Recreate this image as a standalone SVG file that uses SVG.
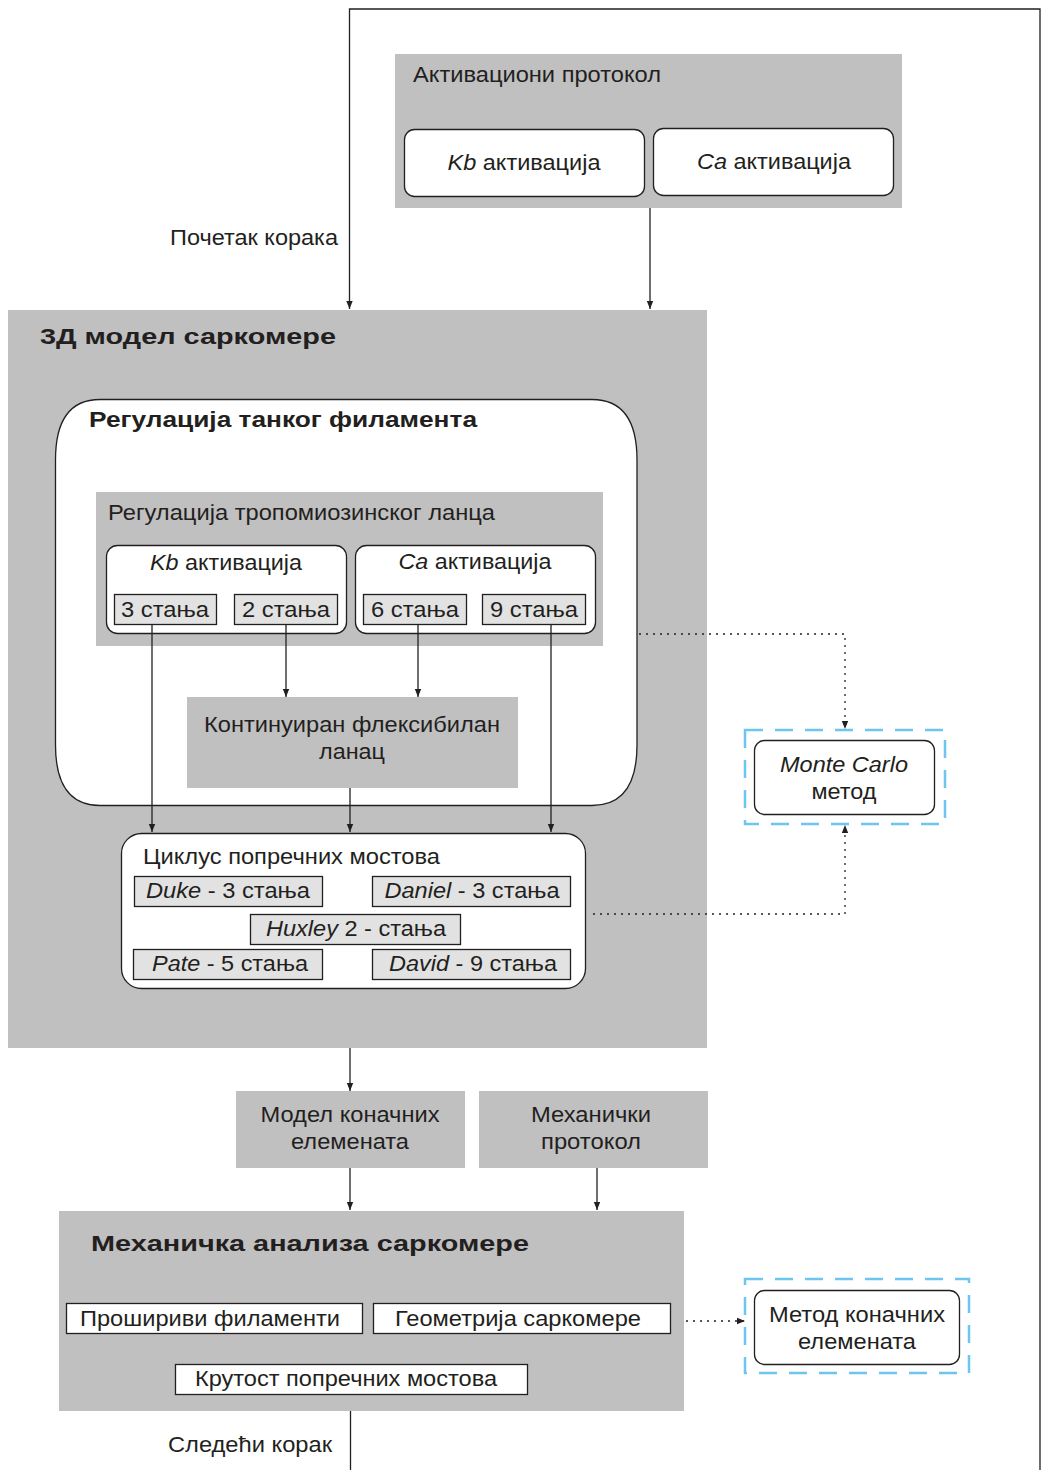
<svg xmlns="http://www.w3.org/2000/svg" width="1041" height="1470" viewBox="0 0 1041 1470">
  <defs>
    <marker id="arr" viewBox="0 0 8 8" refX="8" refY="4" markerWidth="8" markerHeight="8" markerUnits="userSpaceOnUse" orient="auto">
      <path d="M0,0.8 L8,4 L0,7.2 z" fill="#231f20"/>
    </marker>
  </defs>
  <style>
    text { font-family: "Liberation Sans", Arial, sans-serif; fill: #231f20; font-size: 22px; }
    .bold { font-weight: bold; }
    .mid { text-anchor: middle; }
    .end { text-anchor: end; }
    .gray { fill: #c0c0c0; }
    .white { fill: #ffffff; stroke: #231f20; stroke-width: 1.3; }
    .state { fill: #e2e2e2; stroke: #231f20; stroke-width: 1.3; }
    .plain { fill: #ffffff; stroke: #231f20; stroke-width: 1.3; }
    .blue { fill: none; stroke: #6ec6f0; stroke-width: 2.5; stroke-dasharray: 18 12; }
    .line { fill: none; stroke: #231f20; stroke-width: 1.3; }
    .dot { fill: none; stroke: #231f20; stroke-width: 1.3; stroke-dasharray: 2 5; }
  </style>

  <rect width="1041" height="1470" fill="#ffffff"/>

  <!-- activation protocol -->
  <g id="activation-protocol">
    <rect class="gray" x="395" y="54" width="507" height="154"/>
    <text x="413" y="82" textLength="248" lengthAdjust="spacingAndGlyphs">Активациони протокол</text>
    <rect class="white" x="404.5" y="129.5" width="240" height="67" rx="10"/>
    <text class="mid" x="524" y="170" textLength="153" lengthAdjust="spacingAndGlyphs"><tspan font-style="italic">Kb</tspan> активација</text>
    <rect class="white" x="653.5" y="128.5" width="240" height="67" rx="10"/>
    <text class="mid" x="774" y="169" textLength="154" lengthAdjust="spacingAndGlyphs"><tspan font-style="italic">Ca</tspan> активација</text>
  </g>

  <g id="step-start">
    <text class="end" x="338" y="245" textLength="168" lengthAdjust="spacingAndGlyphs">Почетак корака</text>
  </g>

  <!-- 3D sarcomere model -->
  <g id="sarcomere-3d">
    <rect class="gray" x="8" y="310" width="699" height="738"/>
    <text class="bold" font-size="27" x="40" y="344" textLength="296" lengthAdjust="spacingAndGlyphs">3Д модел саркомере</text>
  </g>

  <g id="thin-filament">
    <path class="white" d="M100,399.5 H592 Q637,399.5 637,460 V745 Q637,805.5 592,805.5 H100 Q55.5,805.5 55.5,745 V460 Q55.5,399.5 100,399.5 Z"/>
    <text class="bold" font-size="25.5" x="89" y="427" textLength="388" lengthAdjust="spacingAndGlyphs">Регулација танког филамента</text>
  </g>

  <g id="tropomyosin">
    <rect class="gray" x="96" y="492" width="507" height="154"/>
    <text x="108" y="520" textLength="387" lengthAdjust="spacingAndGlyphs">Регулација тропомиозинског ланца</text>
  </g>

  <g id="kb-activation">
    <rect class="white" x="106.5" y="545.5" width="240" height="88" rx="11"/>
    <text class="mid" x="226" y="570" textLength="152" lengthAdjust="spacingAndGlyphs"><tspan font-style="italic">Kb</tspan> активација</text>
    <rect class="state" x="114.5" y="594.5" width="102" height="30"/>
    <text class="mid" x="165" y="617" textLength="88" lengthAdjust="spacingAndGlyphs">3 стања</text>
    <rect class="state" x="234.5" y="594.5" width="103" height="30"/>
    <text class="mid" x="286" y="617" textLength="88" lengthAdjust="spacingAndGlyphs">2 стања</text>
  </g>

  <g id="ca-activation">
    <rect class="white" x="355.5" y="545.5" width="240" height="88" rx="11"/>
    <text class="mid" x="475" y="569" textLength="153" lengthAdjust="spacingAndGlyphs"><tspan font-style="italic">Ca</tspan> активација</text>
    <rect class="state" x="363.5" y="594.5" width="103" height="30"/>
    <text class="mid" x="415" y="617" textLength="88" lengthAdjust="spacingAndGlyphs">6 стања</text>
    <rect class="state" x="482.5" y="594.5" width="103" height="30"/>
    <text class="mid" x="534" y="617" textLength="88" lengthAdjust="spacingAndGlyphs">9 стања</text>
  </g>

  <g id="flexible-chain">
    <rect class="gray" x="187" y="697" width="331" height="91"/>
    <text class="mid" x="352" y="732" textLength="296" lengthAdjust="spacingAndGlyphs">Континуиран флексибилан</text>
    <text class="mid" x="352" y="759" textLength="66" lengthAdjust="spacingAndGlyphs">ланац</text>
  </g>

  <g id="cross-bridge-cycle">
    <rect class="white" x="121.5" y="833.5" width="464" height="155" rx="20"/>
    <text x="143" y="864" textLength="297" lengthAdjust="spacingAndGlyphs">Циклус попречних мостова</text>
    <rect class="state" x="134.5" y="876.5" width="188" height="30"/>
    <text class="mid" x="228" y="898" textLength="164" lengthAdjust="spacingAndGlyphs"><tspan font-style="italic">Duke</tspan> - 3 стања</text>
    <rect class="state" x="372.5" y="876.5" width="198" height="30"/>
    <text class="mid" x="472" y="898" textLength="175" lengthAdjust="spacingAndGlyphs"><tspan font-style="italic">Daniel</tspan> - 3 стања</text>
    <rect class="state" x="250.5" y="914.5" width="210" height="30"/>
    <text class="mid" x="356" y="936" textLength="180" lengthAdjust="spacingAndGlyphs"><tspan font-style="italic">Huxley</tspan> 2 - стања</text>
    <rect class="state" x="133.5" y="949.5" width="189" height="30"/>
    <text class="mid" x="230" y="971" textLength="156" lengthAdjust="spacingAndGlyphs"><tspan font-style="italic">Pate</tspan> - 5 стања</text>
    <rect class="state" x="372.5" y="949.5" width="198" height="30"/>
    <text class="mid" x="473" y="971" textLength="168" lengthAdjust="spacingAndGlyphs"><tspan font-style="italic">David</tspan> - 9 стања</text>
  </g>

  <g id="monte-carlo">
    <rect class="blue" x="745" y="730" width="200" height="94"/>
    <rect class="white" x="754.5" y="740.5" width="180" height="74" rx="10"/>
    <text class="mid" x="844" y="772" font-style="italic" textLength="128" lengthAdjust="spacingAndGlyphs">Monte Carlo</text>
    <text class="mid" x="844" y="799" textLength="65" lengthAdjust="spacingAndGlyphs">метод</text>
  </g>

  <g id="fe-model">
    <rect class="gray" x="236" y="1091" width="229" height="77"/>
    <text class="mid" x="350" y="1122" textLength="179" lengthAdjust="spacingAndGlyphs">Модел коначних</text>
    <text class="mid" x="350" y="1149" textLength="118" lengthAdjust="spacingAndGlyphs">елемената</text>
  </g>

  <g id="mechanical-protocol">
    <rect class="gray" x="479" y="1091" width="229" height="77"/>
    <text class="mid" x="591" y="1122" textLength="120" lengthAdjust="spacingAndGlyphs">Механички</text>
    <text class="mid" x="591" y="1149" textLength="100" lengthAdjust="spacingAndGlyphs">протокол</text>
  </g>

  <g id="mechanical-analysis">
    <rect class="gray" x="59" y="1211" width="625" height="200"/>
    <text class="bold" font-size="28" x="91" y="1251" textLength="438" lengthAdjust="spacingAndGlyphs">Механичка анализа саркомере</text>
    <rect class="plain" x="66.5" y="1303.5" width="296" height="30"/>
    <text x="80" y="1326" textLength="260" lengthAdjust="spacingAndGlyphs">Прошириви филаменти</text>
    <rect class="plain" x="373.5" y="1303.5" width="297" height="30"/>
    <text x="395" y="1326" textLength="246" lengthAdjust="spacingAndGlyphs">Геометрија саркомере</text>
    <rect class="plain" x="175.5" y="1364.5" width="352" height="30"/>
    <text x="195" y="1386" textLength="302" lengthAdjust="spacingAndGlyphs">Крутост попречних мостова</text>
  </g>

  <g id="fe-method">
    <rect class="blue" x="745" y="1279" width="224" height="94"/>
    <rect class="white" x="754.5" y="1290.5" width="205" height="74" rx="10"/>
    <text class="mid" x="857" y="1322" textLength="176" lengthAdjust="spacingAndGlyphs">Метод коначних</text>
    <text class="mid" x="857" y="1349" textLength="118" lengthAdjust="spacingAndGlyphs">елемената</text>
  </g>

  <g id="step-next">
    <text class="end" x="332" y="1452" textLength="164" lengthAdjust="spacingAndGlyphs">Следећи корак</text>
  </g>

  <!-- connectors -->
  <g id="connectors">
    <path class="line" d="M1040,1470 V9 H349.5 V309" marker-end="url(#arr)"/>
    <path class="line" d="M650,208 V309" marker-end="url(#arr)"/>
    <path class="line" d="M152,625 V832" marker-end="url(#arr)"/>
    <path class="line" d="M286,625 V697" marker-end="url(#arr)"/>
    <path class="line" d="M418,625 V697" marker-end="url(#arr)"/>
    <path class="line" d="M551,625 V832" marker-end="url(#arr)"/>
    <path class="line" d="M350,788 V832" marker-end="url(#arr)"/>
    <path class="dot" d="M639,634 H845 V729" marker-end="url(#arr)"/>
    <path class="dot" d="M593,914 H845 V825" marker-end="url(#arr)"/>
    <path class="line" d="M350,1048 V1091" marker-end="url(#arr)"/>
    <path class="line" d="M350,1168 V1210" marker-end="url(#arr)"/>
    <path class="line" d="M597,1168 V1210" marker-end="url(#arr)"/>
    <path class="dot" d="M686,1321 H745" marker-end="url(#arr)"/>
    <path class="line" d="M350.5,1411 V1470"/>
  </g>
</svg>
